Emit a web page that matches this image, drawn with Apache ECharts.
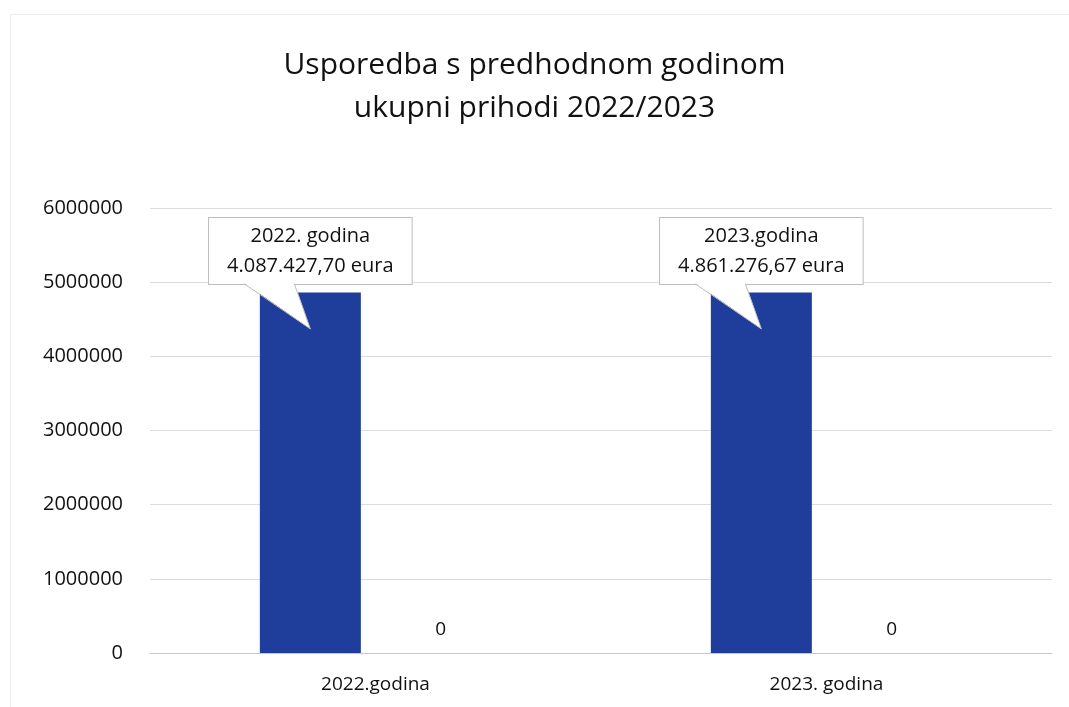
<!DOCTYPE html>
<html>
<head>
<meta charset="utf-8">
<script src="https://cdn.jsdelivr.net/npm/echarts@6/dist/echarts.min.js"></script>
<style>
html,body{margin:0;padding:0;background:#fff;}
#chart{width:1069px;height:707px;}
</style>
</head>
<body>
<div id="chart"></div>
<script>
var categories = ['2022.godina', '2023. godina'];
var prihodi = [4861000, 4861276.67];
var drugaSerija = [0, 0];
var calloutLines1 = ['2022. godina', '2023.godina'];
var calloutLines2 = ['4.087.427,70 eura', '4.861.276,67 eura'];
var calloutTip = [4370000, 4370000];
var yTicks = { min: 0, max: 6000000, interval: 1000000 };

var FONT = '"Open Sans", "Noto Sans", sans-serif';
var BAR_W = 101;
var BAR_GAP = 0.29;

var chart = echarts.init(document.getElementById('chart'));

var calloutData = categories.map(function (c, i) { return [i, calloutTip[i]]; });

chart.setOption({
  animation: false,
  backgroundColor: '#fff',
  title: {
    text: 'Usporedba s predhodnom godinom\nukupni prihodi 2022/2023',
    left: 'center',
    top: 39,
    textStyle: { fontFamily: FONT, fontSize: 30, fontWeight: 'normal', color: '#111', lineHeight: 43 }
  },
  graphic: [
    { type: 'line', shape: { x1: 10.5, y1: 14.5, x2: 1069, y2: 14.5 }, style: { stroke: '#ececec', lineWidth: 1 } },
    { type: 'line', shape: { x1: 10.5, y1: 14.5, x2: 10.5, y2: 707 }, style: { stroke: '#ececec', lineWidth: 1 } }
  ],
  grid: { left: 150, right: 17, top: 208, bottom: 54, containLabel: false },
  xAxis: {
    type: 'category',
    data: categories,
    axisLine: { show: true, lineStyle: { color: '#c8c8c8', width: 1 } },
    axisTick: { show: false },
    axisLabel: { fontFamily: FONT, fontSize: 19, color: '#111', margin: 22 }
  },
  yAxis: {
    type: 'value',
    min: yTicks.min,
    max: yTicks.max,
    interval: yTicks.interval,
    axisLine: { show: false },
    axisTick: { show: false },
    splitLine: { lineStyle: { color: '#dcdcdc', width: 1 } },
    axisLabel: {
      fontFamily: FONT, fontSize: 20, color: '#111', margin: 27,
      formatter: function (v) { return String(v); }
    }
  },
  series: [
    {
      type: 'bar',
      data: prihodi,
      barWidth: BAR_W,
      barGap: (BAR_GAP * 100) + '%',
      itemStyle: { color: '#1f3e9c' },
      label: { show: false }
    },
    {
      type: 'bar',
      data: drugaSerija,
      barWidth: BAR_W,
      itemStyle: { color: '#e07b28' },
      label: {
        show: true,
        position: 'top',
        distance: 14,
        fontFamily: FONT,
        fontSize: 19,
        color: '#111'
      }
    },
    {
      type: 'custom',
      data: calloutData,
      encode: { x: 0, y: 1 },
      z: 10,
      renderItem: function (params, api) {
        var i = params.dataIndex;
        var c = api.coord([api.value(0), api.value(1)]);
        var total = BAR_W * 2 + BAR_GAP * BAR_W;
        var tx = c[0] - total / 2 + BAR_W / 2;
        var ty = c[1];
        var boxBottom = ty - 45;
        var baseL = tx - 66;
        var baseR = tx - 16;
        return {
          type: 'group',
          children: [
            {
              type: 'text',
              style: {
                text: calloutLines1[i] + '\n' + calloutLines2[i],
                x: tx,
                y: boxBottom,
                align: 'center',
                verticalAlign: 'bottom',
                font: '20px ' + FONT,
                fill: '#111',
                lineHeight: 30,
                backgroundColor: '#fff',
                borderColor: '#bdbdbd',
                borderWidth: 1,
                padding: [3, 18, 3, 18]
              }
            },
            {
              type: 'polygon',
              shape: { points: [[baseL, boxBottom - 1], [baseR, boxBottom - 1], [tx, ty]] },
              style: { fill: '#fff', stroke: null }
            },
            {
              type: 'polyline',
              shape: { points: [[baseL, boxBottom], [tx, ty], [baseR, boxBottom]] },
              style: { stroke: '#bdbdbd', lineWidth: 1, fill: null }
            }
          ]
        };
      }
    }
  ]
});
</script>
</body>
</html>
